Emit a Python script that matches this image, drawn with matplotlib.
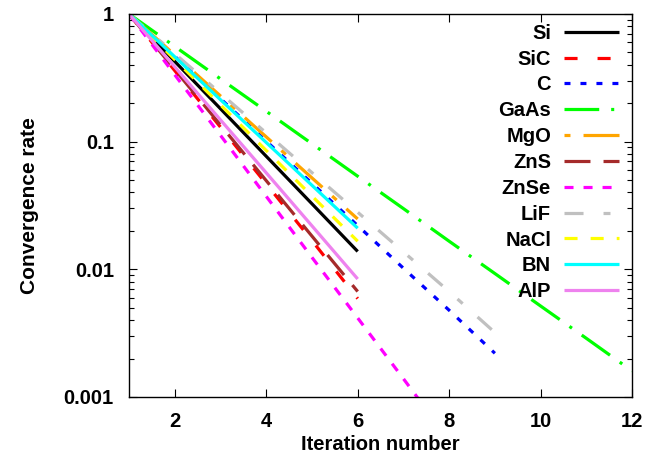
import numpy as np
import matplotlib.pyplot as plt

plt.rcParams['font.family'] = ['Liberation Sans', 'DejaVu Sans']
plt.rcParams['font.weight'] = 'bold'
plt.rcParams['lines.scale_dashes'] = False

# convergence rate per iteration (iteration 1, 2, 3, ...)
si   = [1, 0.425, 0.181, 0.0768, 0.0326, 0.0138]
sic  = [1, 0.36, 0.130, 0.0467, 0.0168, 0.0059]
c    = [1, 0.466, 0.217, 0.101, 0.0472, 0.022, 0.0102, 0.00478, 0.0022]
gaas = [1, 0.557, 0.310, 0.173, 0.0963, 0.0536, 0.0299, 0.0166,
        0.00927, 0.00516, 0.00288, 0.0016]
mgo  = [1, 0.478, 0.228, 0.109, 0.052, 0.0248]
zns  = [1, 0.367, 0.135, 0.0495, 0.0182, 0.0067]
znse = [1, 0.334, 0.112, 0.0373, 0.0124, 0.00416, 0.00139, 0.00046]
lif  = [1, 0.489, 0.239, 0.117, 0.0572, 0.028, 0.0137, 0.0067, 0.0032]
nacl = [1, 0.44, 0.194, 0.0853, 0.0375, 0.0166]
bn   = [1, 0.462, 0.213, 0.0985, 0.0455, 0.021]
alp  = [1, 0.385, 0.148, 0.0570, 0.0219, 0.0084]

names = ['Si', 'SiC', 'C', 'GaAs', 'MgO', 'ZnS', 'ZnSe', 'LiF', 'NaCl', 'BN', 'AlP']
series = [si, sic, c, gaas, mgo, zns, znse, lif, nacl, bn, alp]
colors = ['black', '#ff0000', '#0000ff', '#00ff00', '#ffa500', '#a52a2a',
          '#ff00ff', '#c0c0c0', '#ffff00', '#00ffff', '#ee82ee']
# dash patterns in points (gnuplot-like)
dashes = [None, (9.4, 14.4), (4.3, 7.2), (25, 8.6, 2.2, 8.6),
          (4.3, 9.4, 26, 9.4), (18.7, 9.4), (6.5, 7.2),
          (13.7, 14.4, 5, 14.4), (9.4, 9.4), None, None]

fs = 14.5

fig = plt.figure(figsize=(6.55, 4.57), dpi=100)
ax = fig.add_axes([0.197, 0.1313, 0.768, 0.8381])

for name, vals, col, ds in zip(names, series, colors, dashes):
    it = np.arange(1, len(vals) + 1)
    line, = ax.plot(it, vals, color=col, lw=2.3, label=name,
                    solid_capstyle='butt', dash_capstyle='butt')
    if ds is not None:
        line.set_dashes(ds)

ax.set_yscale('log')
ax.set_xlim(1, 12)
ax.set_ylim(0.001, 1)
ax.set_xticks([2, 4, 6, 8, 10, 12])
ax.set_yticks([0.001, 0.01, 0.1, 1])
ax.set_yticklabels(['0.001', '0.01', '0.1', '1'])
ax.tick_params(which='both', direction='in', top=True, right=True,
               labelsize=fs, width=0.8)
ax.tick_params(which='major', length=6, pad=11)
ax.tick_params(which='minor', length=3.5)
for s in ax.spines.values():
    s.set_linewidth(1.0)

ax.set_xlabel('Iteration number', fontsize=fs, fontweight='bold', labelpad=3)
ax.set_ylabel('Convergence rate', fontsize=15, fontweight='bold', labelpad=18)

ax.legend(loc='upper right', frameon=False, markerfirst=False, fontsize=fs,
          handlelength=2.75, handletextpad=0.65, labelspacing=0.34,
          borderaxespad=0.2, bbox_to_anchor=(0.999, 1.006))

fig.savefig('out.png', dpi=100)
